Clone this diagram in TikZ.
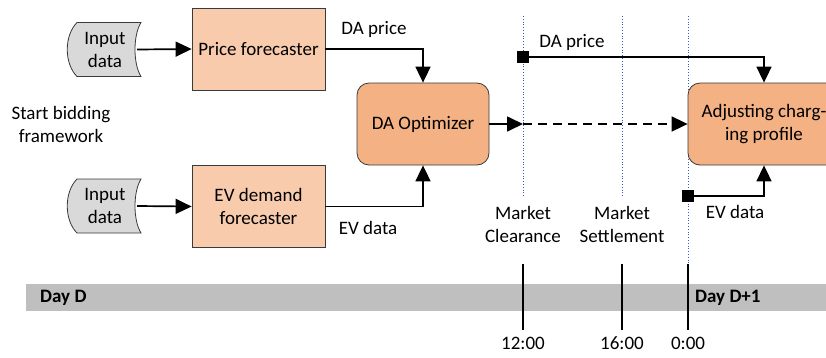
\documentclass[tikz,border=0pt]{standalone}
\usepackage{fontspec}
\setmainfont{Carlito}
\usetikzlibrary{arrows.meta}
\definecolor{lightpeach}{HTML}{F8CBAD}
\definecolor{peach}{HTML}{F4B183}
\definecolor{ingray}{HTML}{D9D9D9}
\definecolor{bandgray}{HTML}{BFBFBF}
\definecolor{vblue}{HTML}{2F5FC4}
\definecolor{edge}{HTML}{3A3A3A}
\tikzset{
  every node/.style={font=\fontsize{19}{23}\selectfont, align=center, inner sep=0pt},
  forecaster/.style={draw=edge, line width=0.8pt, fill=lightpeach, minimum width=133pt, minimum height=82pt},
  optimizer/.style={draw=edge, line width=0.8pt, fill=peach, rounded corners=12pt, minimum width=132pt, minimum height=82pt},
  conn/.style={line width=1.7pt, -{Triangle[length=16pt,width=15pt]}},
  vdotted/.style={vblue, line width=0.8pt, dotted},
  tick/.style={line width=1.7pt},
  marker/.style={fill=black, minimum size=12pt},
  pics/indata/.style={code={
    \draw[edge, line width=0.8pt, fill=ingray] (-27,-27) -- (37,-27)
      .. controls (29,-14) and (29,14) .. (37,27) -- (-27,27)
      .. controls (-40,14) and (-40,-14) .. (-27,-27) -- cycle;
  }},
}
\begin{document}
\begin{tikzpicture}[x=1pt,y=-1pt]
\useasboundingbox (0,0) rectangle (826,357);
\begin{scope}
\clip (0,0) rectangle (826,357);
% band
\fill[bandgray] (26,284) rectangle (826,311);
\node[font=\bfseries\fontsize{19}{23}\selectfont, anchor=west] (dayd) at (40,297.5) {Day D};
\node[font=\bfseries\fontsize{19}{23}\selectfont, anchor=west] (dayd1) at (695,297.5) {Day D+1};

% inputs
\pic at (104,49.5) {indata};
\node (in1) at (105,49.5) {Input\\data};
\coordinate (in1e) at (137,49.5);
\pic at (104,206) {indata};
\node (in2) at (105,206) {Input\\data};
\coordinate (in2e) at (137,206);

\node (start) at (61,124) {Start bidding\\framework};

% forecasters
\node[forecaster] (pf) at (258.5,49) {Price forecaster};
\node[forecaster] (ef) at (258.5,206.5) {EV demand\\forecaster};
\draw[conn] (in1e) -- (pf.west);
\draw[conn] (in2e) -- (ef.west);

% optimizer
\node[optimizer] (opt) at (423,124) {DA Optimizer};
\draw[conn] (pf.east) -| (opt.north);
\draw[conn] (ef.east) -| (opt.south);
\node (dap1) at (374,29) {DA price};
\node (evd1) at (368,228) {EV data};

% vertical lines
\coordinate (v1t) at (523,16);
\coordinate (v1b) at (523,197);
\coordinate (v2t) at (622,16);
\coordinate (v2b) at (622,197);
\coordinate (v3t) at (688,16);
\coordinate (v3b) at (688,264);
\draw[vdotted] (v1t) -- (v1b);
\draw[vdotted] (v2t) -- (v2b);
\draw[vdotted] (v3t) -- (v3b);

\node (mc) at (523,224) {Market\\Clearance};
\node (ms) at (622,224) {Market\\Settlement};

% ticks
\coordinate (t1a) at (523,264); \coordinate (t1b) at (523,330);
\coordinate (t2a) at (622,264); \coordinate (t2b) at (622,330);
\coordinate (t3a) at (688,264); \coordinate (t3b) at (688,330);
\draw[tick] (t1a) -- (t1b);
\draw[tick] (t2a) -- (t2b);
\draw[tick] (t3a) -- (t3b);
\node (time1) at (523,343) {12:00};
\node (time2) at (622,343) {16:00};
\node (time3) at (688,343) {0:00};

% adjusting
\node[optimizer, minimum width=152pt] (adj) at (764,124) {Adjusting charg-\\ing profile};
\coordinate (mid) at (523,124);
\draw[conn] (opt.east) -- (mid);
\draw[conn, dashed, dash pattern=on 9pt off 6pt] (mid) -- (adj.west);

% markers
\node[marker] (sq1) at (523,57) {};
\node[marker] (sq2) at (688,196) {};
\draw[conn] (sq1.center) -| (adj.north);
\draw[conn] (sq2.center) -| (adj.south);
\node (dap2) at (572,42) {DA price};
\node (evd2) at (735,212) {EV data};
\end{scope}
\end{tikzpicture}
\end{document}
